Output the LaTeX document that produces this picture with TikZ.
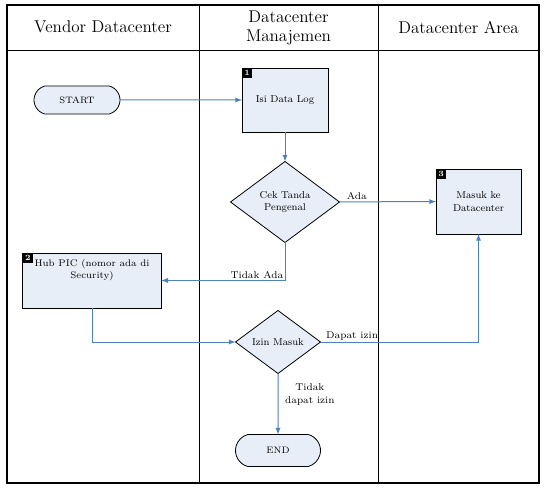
\documentclass[tikz,border=0pt]{standalone}
\usepackage{tikz}
\usetikzlibrary{positioning, shapes.geometric, shapes.misc}

\definecolor{isian}{RGB}{232,238,248}
\definecolor{panah}{RGB}{79,129,189}

\tikzset{
    kotak/.style={draw=black, line width=0.7pt, fill=isian, inner sep=0pt, outer sep=0pt,
        align=center, font=\fontsize{7.5}{9.5}\selectfont},
    keputusan/.style={diamond, aspect=1.35, draw=black, line width=0.6pt, fill=isian,
        inner sep=0pt, outer sep=0pt, align=center, font=\fontsize{7.5}{9.5}\selectfont},
    terminal/.style={rounded rectangle, rounded rectangle arc length=150, draw=black,
        line width=0.6pt, fill=isian, inner sep=0pt, outer sep=0pt,
        font=\fontsize{7}{9}\selectfont},
    nomor/.style={fill=black, text=white, anchor=north west, inner sep=0pt,
        minimum size=7.5pt, font=\fontsize{6}{6}\bfseries\selectfont},
    alur/.style={draw=panah, line width=0.75pt, -latex},
    ket/.style={inner sep=1pt, align=center, font=\fontsize{7.4}{9.5}\selectfont},
    judul/.style={align=center, font=\fontsize{12.8}{14.3}\selectfont}
}

\begin{document}
\begin{tikzpicture}[x=0.75pt, y=-0.75pt]
    \useasboundingbox (0,0) rectangle (546,488);

    % Jalur (swimlane)
    \draw[line width=1pt] (7,5) rectangle (539,483);
    \draw[line width=0.6pt] (7,50) -- (539,50);
    \draw[line width=0.6pt] (199,5) -- (199,483);
    \draw[line width=0.6pt] (378,5) -- (378,483);

    % Judul jalur
    \node[judul] (vendor) at (103,27) {Vendor Datacenter};
    \node[judul] (manajemen) at (288.5,27.5) {Datacenter\\Manajemen};
    \node[judul] (area) at (458.5,27) {Datacenter Area};

    % Simpul
    \node[terminal, minimum width=64.5pt, minimum height=21pt] (mulai) at (77,100) {START};
    \node[kotak, minimum width=64.5pt, minimum height=48pt] (isi) at (285,100) {Isi Data Log};
    \node[keputusan, minimum width=81.75pt, minimum height=60.75pt] (cek) at (285,202) {Cek Tanda\\Pengenal};
    \node[kotak, minimum width=63.75pt, minimum height=48.75pt] (masuk) at (478.5,201.5) {Masuk ke\\Datacenter};
    \node[kotak, minimum width=103.9pt, minimum height=41.25pt] (hub) at (92,280.5) {};
    \node[ket, font=\fontsize{7.2}{9}\selectfont, below=3.5pt of hub.north] (hubteks) {Hub PIC (nomor ada di\\Security)};
    \node[keputusan, minimum width=63.75pt, minimum height=47.25pt] (izin) at (278,342) {Izin Masuk};
    \node[terminal, minimum width=63.75pt, minimum height=24pt] (selesai) at (278,450.5) {END};

    % Nomor kotak
    \node[nomor] (n1) at (isi.north west) {1};
    \node[nomor] (n2) at (hub.north west) {2};
    \node[nomor] (n3) at (masuk.north west) {3};

    % Alur
    \draw[alur] (mulai) -- (isi);
    \draw[alur] (isi) -- (cek);
    \draw[alur] (cek) -- node[ket, above, pos=0.18] (ada) {Ada} (masuk);
    \draw[alur] (cek.south) |- node[ket, above left, pos=0.5] (tidakada) {Tidak Ada} (hub.east);
    \draw[alur] (hub.south) |- (izin.west);
    \draw[alur] (izin.east) -| node[ket, above, pos=0.1] (dapat) {Dapat izin} (masuk.south);
    \draw[alur] (izin) -- node[ket, right=4pt, pos=0.34] (tidakdapat) {Tidak\\dapat izin} (selesai);

\end{tikzpicture}
\end{document}
